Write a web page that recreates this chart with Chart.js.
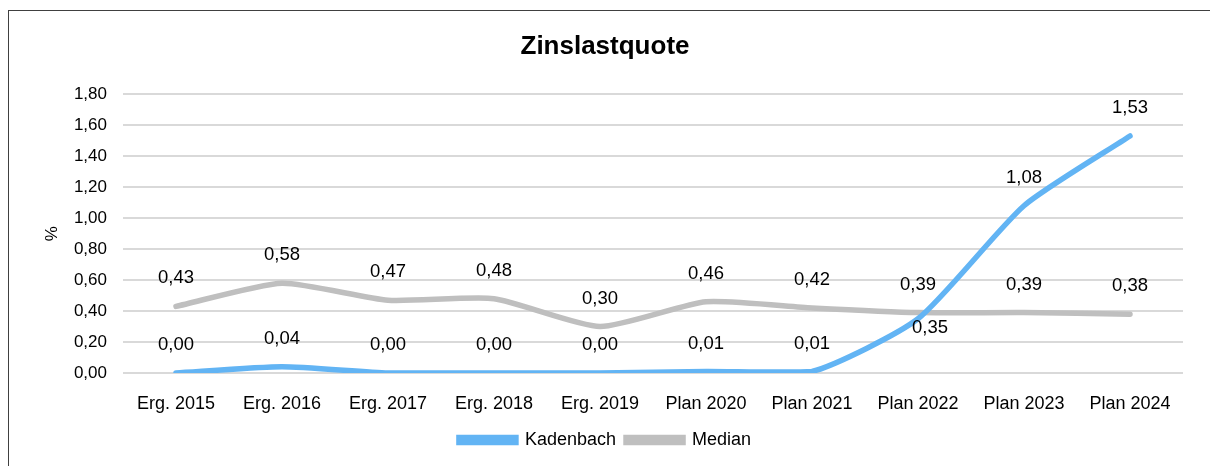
<!DOCTYPE html>
<html>
<head>
<meta charset="utf-8">
<script src="https://cdn.jsdelivr.net/npm/chart.js@4"></script>
<style>
    body { margin: 0; background: #fff; }
    #wrap { position: relative; width: 1210px; height: 466px; }
    #frame { position: absolute; left: 8px; top: 10px; width: 1300px; height: 600px; border: 1px solid #404040; pointer-events: none; }
</style>
</head>
<body>
<div id="wrap">
    <canvas id="canvas" width="1210" height="466"></canvas>
    <div id="frame"></div>
</div>
<script>
const categories = ['Erg. 2015', 'Erg. 2016', 'Erg. 2017', 'Erg. 2018', 'Erg. 2019', 'Plan 2020', 'Plan 2021', 'Plan 2022', 'Plan 2023', 'Plan 2024'];
const kadenbach = [0.00, 0.04, 0.00, 0.00, 0.00, 0.01, 0.01, 0.35, 1.08, 1.53];
const median = [0.43, 0.58, 0.47, 0.48, 0.30, 0.46, 0.42, 0.39, 0.39, 0.38];

const fontFamily = '"Liberation Sans", Arial, sans-serif';

function fmt(v) {
    return v.toFixed(2).replace('.', ',');
}

// value labels, above the point except where the reference puts them below
const labelPlugin = {
    id: 'valueLabels',
    afterDatasetsDraw(chart) {
        const ctx = chart.ctx;
        ctx.save();
        ctx.font = '18.5px ' + fontFamily;
        ctx.fillStyle = '#000';
        ctx.textAlign = 'center';
        ctx.textBaseline = 'middle';
        chart.data.datasets.forEach((ds, i) => {
            const meta = chart.getDatasetMeta(i);
            meta.data.forEach((pt, j) => {
                const below = ds.label === 'Kadenbach' && j === 7;
                const x = below ? pt.x + 12 : pt.x;
                const y = below ? pt.y + 9 : pt.y - 28;
                ctx.fillText(fmt(ds.data[j]), x, y);
            });
        });
        ctx.restore();
    }
};

var ctx = document.getElementById('canvas').getContext('2d');
var chart = new Chart(ctx, {
    type: 'line',
    data: {
        labels: categories,
        datasets: [{
            label: 'Kadenbach',
            data: kadenbach,
            borderColor: '#62b4f4',
            backgroundColor: '#62b4f4',
            borderWidth: 5.5,
            pointRadius: 0,
            tension: 0.2,
            borderCapStyle: 'round',
        }, {
            label: 'Median',
            data: median,
            borderColor: '#bfbfbf',
            backgroundColor: '#bfbfbf',
            borderWidth: 5.5,
            pointRadius: 0,
            tension: 0.2,
            borderCapStyle: 'round',
        }]
    },
    options: {
        responsive: false,
        animation: false,
        layout: {
            padding: { left: 0, right: 0, top: 0, bottom: 7 }
        },
        plugins: {
            title: {
                display: true,
                text: 'Zinslastquote',
                color: '#000',
                font: { family: fontFamily, size: 26, weight: 'bold' },
                padding: { top: 31, bottom: 32 },
            },
            legend: {
                position: 'bottom',
                labels: {
                    color: '#000',
                    font: { family: fontFamily, size: 18 },
                    boxWidth: 57,
                    boxHeight: 5,
                    padding: 10,
                }
            },
            tooltip: { enabled: false },
        },
        scales: {
            x: {
                offset: true,
                grid: { display: false },
                border: { display: false },
                ticks: {
                    color: '#000',
                    font: { family: fontFamily, size: 18 },
                    padding: 12,
                    maxRotation: 0,
                    autoSkip: false,
                },
                afterFit(scale) { scale.height = 48; },
            },
            y: {
                min: 0,
                max: 1.8,
                grid: { color: '#d9d9d9', lineWidth: 2, drawTicks: false },
                border: { display: false },
                ticks: {
                    stepSize: 0.2,
                    color: '#000',
                    font: { family: fontFamily, size: 17 },
                    padding: 16,
                    callback: (v) => fmt(v),
                },
                title: {
                    display: true,
                    text: '%',
                    color: '#000',
                    font: { family: fontFamily, size: 17 },
                    padding: { top: 42, bottom: 0 },
                },
                afterFit(scale) { scale.width = 123; },
            },
            // empty right-hand strip so the title and legend centre on the whole canvas
            yRight: {
                position: 'right',
                min: 0,
                max: 1.8,
                grid: { display: false },
                border: { display: false },
                ticks: { display: false },
                afterFit(scale) { scale.width = 27; },
            }
        }
    },
    plugins: [labelPlugin]
});
</script>
</body>
</html>
